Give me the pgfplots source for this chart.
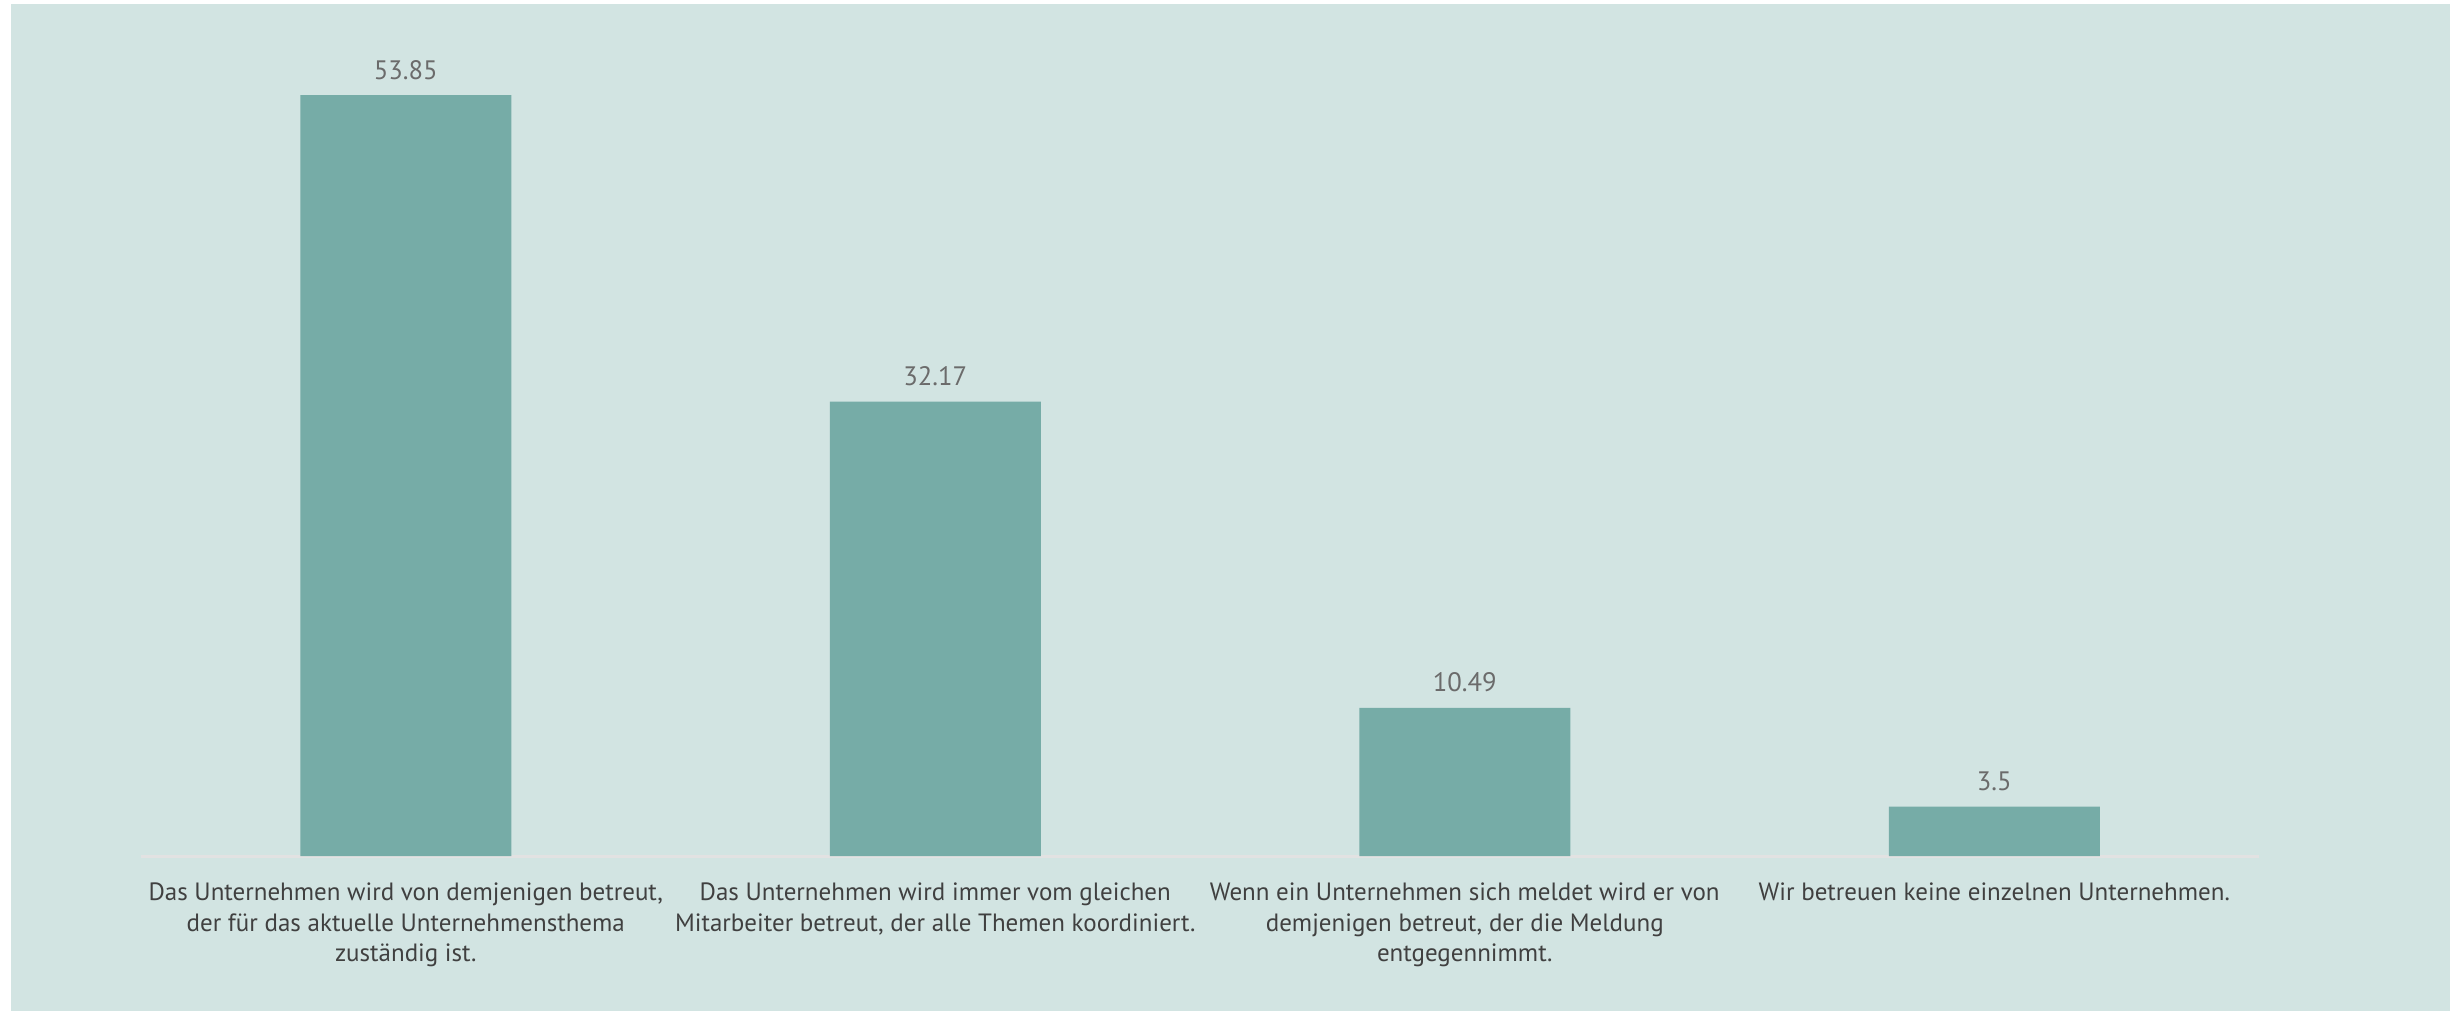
\documentclass[border=0pt]{standalone}
\usepackage{pgfplots}
\pgfplotsset{compat=1.18}
\usepackage{fontspec}
\setmainfont{PT Sans}
\definecolor{bgTeal}{HTML}{D2E4E2}
\definecolor{barTeal}{HTML}{76ACA7}
\definecolor{valGray}{HTML}{6B6B6B}
\definecolor{lblGray}{HTML}{404040}
\definecolor{baseGray}{HTML}{E2E2E2}
\begin{document}
\begin{tikzpicture}
  % canvas: 1 px of the reference = 0.3pt
  \fill[white] (0pt,0pt) rectangle (735pt,303.3pt);
  \fill[bgTeal] (3.3pt,0pt) rectangle (735pt,302.1pt);
  \path[use as bounding box] (0pt,0pt) rectangle (735pt,303.3pt);
  \begin{axis}[
    at={(42.3pt,46.5pt)}, anchor=south west,
    scale only axis,
    width=635.4pt, height=254.3pt,
    xmin=-0.5, xmax=3.5,
    ymin=0, ymax=60,
    axis y line=none,
    axis x line*=bottom,
    x axis line style={-, draw=baseGray, line width=0.9pt},
    xtick=data,
    major tick length=0pt,
    xticklabels={
      {Das Unternehmen wird von demjenigen betreut,\\der für das aktuelle Unternehmensthema\\zuständig ist.},
      {Das Unternehmen wird immer vom gleichen\\Mitarbeiter betreut, der alle Themen koordiniert.},
      {Wenn ein Unternehmen sich meldet wird er von\\demjenigen betreut, der die Meldung\\entgegennimmt.},
      {Wir betreuen keine einzelnen Unternehmen.}
    },
    xticklabel style={align=center, anchor=north, inner sep=0pt, yshift=-7.8pt,
      font=\fontsize{7.5}{9.2}\selectfont, text=lblGray},
    ybar, bar width=63.3pt,
    nodes near coords,
    nodes near coords style={anchor=base, inner sep=0pt, yshift=4.8pt,
      font=\fontsize{8}{9}\selectfont, text=valGray},
    point meta=explicit symbolic,
    clip=false,
  ]
    \addplot[fill=barTeal, draw=none] coordinates {
      (0,53.85) [53.85]
      (1,32.17) [32.17]
      (2,10.49) [10.49]
      (3,3.5) [3.5]
    };
  \end{axis}
\end{tikzpicture}
\end{document}
